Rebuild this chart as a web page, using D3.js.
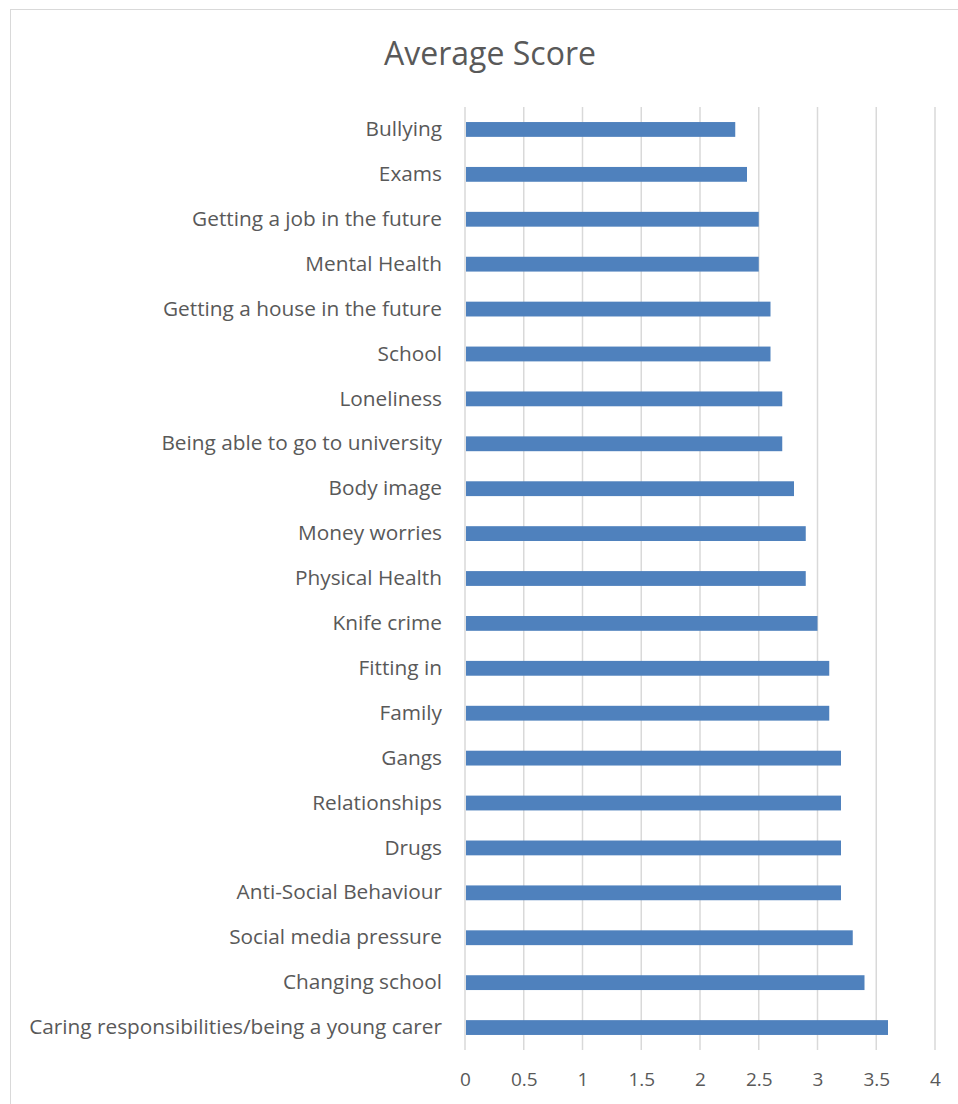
<!DOCTYPE html>
<html>
<head>
<meta charset="utf-8">
<script src="https://cdn.jsdelivr.net/npm/d3@7"></script>
<style>
  body { margin: 0; background: #fff; }
  text { font-family: "Open Sans", "Noto Sans", sans-serif; fill: #595959; }
</style>
</head>
<body>
<div class="chart"></div>
<script>
// data
var categories = [
  "Bullying", "Exams", "Getting a job in the future", "Mental Health",
  "Getting a house in the future", "School", "Loneliness",
  "Being able to go to university", "Body image", "Money worries",
  "Physical Health", "Knife crime", "Fitting in", "Family", "Gangs",
  "Relationships", "Drugs", "Anti-Social Behaviour", "Social media pressure",
  "Changing school", "Caring responsibilities/being a young carer"
];
var scores = [2.3, 2.4, 2.5, 2.5, 2.6, 2.6, 2.7, 2.7, 2.8, 2.9, 2.9, 3.0,
  3.1, 3.1, 3.2, 3.2, 3.2, 3.2, 3.3, 3.4, 3.6];
var xTicks = [0, 0.5, 1, 1.5, 2, 2.5, 3, 3.5, 4];

var svgWidth = 958;
var svgHeight = 1104;

var margin = { top: 107, right: 23, bottom: 54, left: 465 };
var width = svgWidth - margin.left - margin.right;
var height = svgHeight - margin.top - margin.bottom;

var svg = d3.select(".chart")
  .append("svg")
  .attr("width", svgWidth)
  .attr("height", svgHeight);

// chart border
svg.append("rect")
  .attr("x", 10.5)
  .attr("y", 9.5)
  .attr("width", 960)
  .attr("height", 1110)
  .attr("fill", "none")
  .attr("stroke", "#d9d9d9");

svg.append("text")
  .attr("x", 490)
  .attr("y", 65)
  .attr("text-anchor", "middle")
  .style("font-size", "32px")
  .text("Average Score");

var chartGroup = svg.append("g")
  .attr("transform", `translate(${margin.left}, ${margin.top})`);

var x = d3.scaleLinear().domain([0, 4]).range([0, width]);
var y = d3.scaleBand().domain(categories).range([0, height]).paddingInner(0.67).paddingOuter(0.335);

// gridlines
chartGroup.selectAll(".grid")
  .data(xTicks)
  .enter()
  .append("line")
  .attr("x1", d => x(d))
  .attr("x2", d => x(d))
  .attr("y1", 0)
  .attr("y2", height)
  .attr("stroke", "#d9d9d9")
  .attr("stroke-width", 1.5);

// bars
chartGroup.selectAll(".bar")
  .data(categories)
  .enter()
  .append("rect")
  .attr("x", x(0) + 1)
  .attr("y", d => y(d))
  .attr("width", (d, i) => x(scores[i]) - x(0) - 1)
  .attr("height", y.bandwidth())
  .attr("fill", "#4f81bd");

// category labels
var leftAxis = d3.axisLeft(y).tickSize(0).tickPadding(23);
var yAxis = chartGroup.append("g").call(leftAxis);
yAxis.select(".domain").remove();
yAxis.selectAll("text")
  .style("font-size", "20.8px")
  .attr("fill", "#595959");

// value labels
var bottomAxis = d3.axisBottom(x).tickValues(xTicks).tickSize(0).tickPadding(23).tickFormat(d3.format("~g"));
var xAxis = chartGroup.append("g")
  .attr("transform", `translate(0, ${height})`)
  .call(bottomAxis);
xAxis.select(".domain").remove();
xAxis.selectAll("text")
  .style("font-size", "19px")
  .attr("fill", "#595959");
</script>
</body>
</html>
